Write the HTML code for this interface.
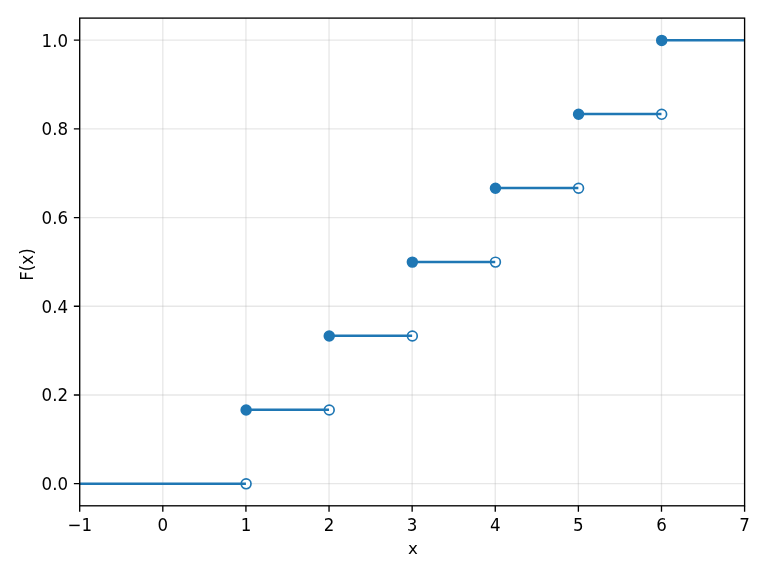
<!DOCTYPE html><html><head><meta charset="utf-8"><style>html,body{margin:0;padding:0;background:#fff;}svg{display:block;will-change:transform;}text{font-family:"DejaVu Sans","Liberation Sans",sans-serif;font-size:16.67px;fill:#000;}</style></head><body>
<svg width="768" height="576" viewBox="0 0 768 576">
<rect width="768" height="576" fill="#fff"/>
<g stroke="#b0b0b0" stroke-opacity="0.3" stroke-width="1.33" fill="none"><path d="M79.70 18.10V505.80"/><path d="M162.81 18.10V505.80"/><path d="M245.93 18.10V505.80"/><path d="M329.04 18.10V505.80"/><path d="M412.15 18.10V505.80"/><path d="M495.26 18.10V505.80"/><path d="M578.38 18.10V505.80"/><path d="M661.49 18.10V505.80"/><path d="M744.60 18.10V505.80"/><path d="M79.70 483.65H744.60"/><path d="M79.70 394.96H744.60"/><path d="M79.70 306.27H744.60"/><path d="M79.70 217.58H744.60"/><path d="M79.70 128.89H744.60"/><path d="M79.70 40.20H744.60"/></g>
<circle cx="246.12" cy="483.85" r="4.90" fill="#fff" stroke="#1f77b4" stroke-width="1.67"/>
<circle cx="329.24" cy="409.94" r="4.90" fill="#fff" stroke="#1f77b4" stroke-width="1.67"/>
<circle cx="412.35" cy="336.03" r="4.90" fill="#fff" stroke="#1f77b4" stroke-width="1.67"/>
<circle cx="495.46" cy="262.12" r="4.90" fill="#fff" stroke="#1f77b4" stroke-width="1.67"/>
<circle cx="578.58" cy="188.22" r="4.90" fill="#fff" stroke="#1f77b4" stroke-width="1.67"/>
<circle cx="661.69" cy="114.31" r="4.90" fill="#fff" stroke="#1f77b4" stroke-width="1.67"/>
<path d="M79.70 483.65H245.93M245.93 409.74H329.04M329.04 335.83H412.15M412.15 261.92H495.26M495.26 188.02H578.38M578.38 114.11H661.49M661.49 40.20H744.60" stroke="#1f77b4" stroke-width="2.5" fill="none"/>
<circle cx="246.12" cy="409.94" r="4.90" fill="#1f77b4" stroke="#1f77b4" stroke-width="1.67"/>
<circle cx="329.24" cy="336.03" r="4.90" fill="#1f77b4" stroke="#1f77b4" stroke-width="1.67"/>
<circle cx="412.35" cy="262.12" r="4.90" fill="#1f77b4" stroke="#1f77b4" stroke-width="1.67"/>
<circle cx="495.46" cy="188.22" r="4.90" fill="#1f77b4" stroke="#1f77b4" stroke-width="1.67"/>
<circle cx="578.58" cy="114.31" r="4.90" fill="#1f77b4" stroke="#1f77b4" stroke-width="1.67"/>
<circle cx="661.69" cy="40.40" r="4.90" fill="#1f77b4" stroke="#1f77b4" stroke-width="1.67"/>
<rect x="79.70" y="18.10" width="664.90" height="487.70" fill="none" stroke="#000" stroke-width="1.33" stroke-linejoin="miter" stroke-linecap="square"/>
<path d="M79.70 505.80v5.83M162.81 505.80v5.83M245.93 505.80v5.83M329.04 505.80v5.83M412.15 505.80v5.83M495.26 505.80v5.83M578.38 505.80v5.83M661.49 505.80v5.83M744.60 505.80v5.83M79.70 483.65h-5.83M79.70 394.96h-5.83M79.70 306.27h-5.83M79.70 217.58h-5.83M79.70 128.89h-5.83M79.70 40.20h-5.83" stroke="#000" stroke-width="1.33" fill="none"/>
<text transform="translate(79.70 530.70) scale(1 1.070)" text-anchor="middle">−1</text>
<text transform="translate(162.81 530.70) scale(1 1.070)" text-anchor="middle">0</text>
<text transform="translate(245.93 530.70) scale(1 1.070)" text-anchor="middle">1</text>
<text transform="translate(329.04 530.70) scale(1 1.070)" text-anchor="middle">2</text>
<text transform="translate(412.15 530.70) scale(1 1.070)" text-anchor="middle">3</text>
<text transform="translate(495.26 530.70) scale(1 1.070)" text-anchor="middle">4</text>
<text transform="translate(578.38 530.70) scale(1 1.070)" text-anchor="middle">5</text>
<text transform="translate(661.49 530.70) scale(1 1.070)" text-anchor="middle">6</text>
<text transform="translate(744.60 530.70) scale(1 1.070)" text-anchor="middle">7</text>
<text transform="translate(68.04 490.10) scale(1 1.070)" text-anchor="end">0.0</text>
<text transform="translate(68.04 401.41) scale(1 1.070)" text-anchor="end">0.2</text>
<text transform="translate(68.04 312.72) scale(1 1.070)" text-anchor="end">0.4</text>
<text transform="translate(68.04 224.03) scale(1 1.070)" text-anchor="end">0.6</text>
<text transform="translate(68.04 135.34) scale(1 1.070)" text-anchor="end">0.8</text>
<text transform="translate(68.04 46.65) scale(1 1.070)" text-anchor="end">1.0</text>
<text transform="translate(412.95 554.30) scale(1 1.000)" text-anchor="middle">x</text>
<text transform="translate(32.70 264.55) rotate(-90) scale(1 1.070)" text-anchor="middle">F(x)</text>
</svg></body></html>
